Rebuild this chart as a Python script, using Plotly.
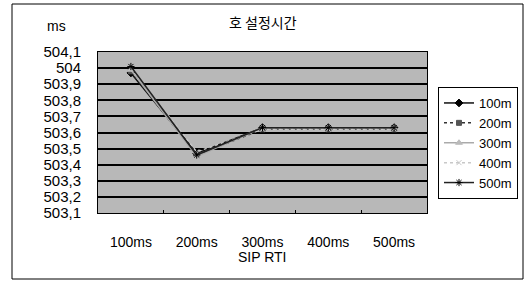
import plotly.graph_objects as go

categories = ["100ms", "200ms", "300ms", "400ms", "500ms"]
series_names = ["100m", "200m", "300m", "400m", "500m"]
s100 = [503.97, 503.47, 503.63, 503.63, 503.63]
s200 = [503.98, 503.46, 503.62, 503.62, 503.62]
s300 = [503.99, 503.45, 503.63, 503.63, 503.63]
s400 = [504.00, 503.48, 503.62, 503.62, 503.62]
s500 = [504.01, 503.46, 503.63, 503.63, 503.63]
ytick_vals = [503.1, 503.2, 503.3, 503.4, 503.5, 503.6, 503.7, 503.8, 503.9, 504.0, 504.1]
ytick_text = ["503,1", "503,2", "503,3", "503,4", "503,5", "503,6", "503,7", "503,8", "503,9", "504", "504,1"]

styles = [
    dict(color="#111111", dash="solid", symbol="diamond", mcolor="#000000", msize=6),
    dict(color="#333333", dash="dot", symbol="square", mcolor="#555555", msize=5),
    dict(color="#aaaaaa", dash="solid", symbol="triangle-up", mcolor="#bbbbbb", msize=6),
    dict(color="#c8c8c8", dash="dot", symbol="x-thin-open", mcolor="#c8c8c8", msize=5),
    dict(color="#222222", dash="solid", symbol="asterisk-open", mcolor="#000000", msize=6),
]

L, R, T, B = 98, 427, 52, 213
W, H = 526, 281

fig = go.Figure()
for name, vals, st in zip(series_names, [s100, s200, s300, s400, s500], styles):
    fig.add_trace(go.Scatter(
        x=categories, y=vals, name=name, mode="lines+markers",
        line=dict(color=st["color"], width=1.5, dash=st["dash"]),
        marker=dict(symbol=st["symbol"], size=st["msize"], color=st["mcolor"],
                    line=dict(color=st["mcolor"], width=1)),
    ))

font_main = "Liberation Sans, Arial, Noto Sans CJK KR, sans-serif"


def px_x(px):
    return (px - L) / (R - L)


def px_y(py):
    return (B - py) / (B - T)


fig.update_layout(
    width=W, height=H,
    margin=dict(l=L, r=W - R, t=T, b=H - B, autoexpand=False),
    paper_bgcolor="white",
    plot_bgcolor="#b8b8b8",
    font=dict(family=font_main, size=14, color="black"),
    showlegend=True,
    legend=dict(
        x=px_x(438), y=px_y(87), xanchor="left", yanchor="top",
        bordercolor="black", borderwidth=1, bgcolor="white",
        font=dict(size=13), tracegroupgap=0, itemwidth=30,
    ),
    xaxis=dict(
        type="category", range=[-0.5, 4.5], automargin=False,
        showgrid=False, showline=True, linecolor="black", linewidth=1, mirror=True,
        ticks="inside", tickson="boundaries", ticklen=3, tickcolor="black",
        ticklabelstandoff=16, tickfont=dict(size=14),
    ),
    yaxis=dict(
        range=[503.1, 504.1], tickvals=ytick_vals, ticktext=ytick_text,
        automargin=False,
        showgrid=True, gridcolor="black", gridwidth=2,
        showline=True, linecolor="black", linewidth=1, mirror=True,
        ticks="", ticklabelstandoff=13, zeroline=False, tickfont=dict(size=15),
    ),
    annotations=[
        dict(text="호 설정시간", x=px_x(263), y=px_y(22), xref="paper", yref="paper",
             xanchor="center", yanchor="middle",
             showarrow=False, font=dict(size=14, family="Noto Sans CJK KR")),
        dict(text="ms", x=px_x(45), y=px_y(26), xref="paper", yref="paper",
             xanchor="left", yanchor="middle",
             showarrow=False, font=dict(size=14)),
        dict(text="SIP RTI", x=px_x(262), y=px_y(257), xref="paper", yref="paper",
             xanchor="center", yanchor="middle",
             showarrow=False, font=dict(size=14)),
    ],
)

fig.add_shape(type="rect", xref="paper", yref="paper",
              x0=px_x(12), x1=px_x(523),
              y0=px_y(279), y1=px_y(4),
              line=dict(color="black", width=1), fillcolor="rgba(0,0,0,0)", layer="below")

fig.write_html("out.html",
               config={"displayModeBar": False},
               post_script="document.body.style.margin='0';document.body.style.overflow='hidden';")
